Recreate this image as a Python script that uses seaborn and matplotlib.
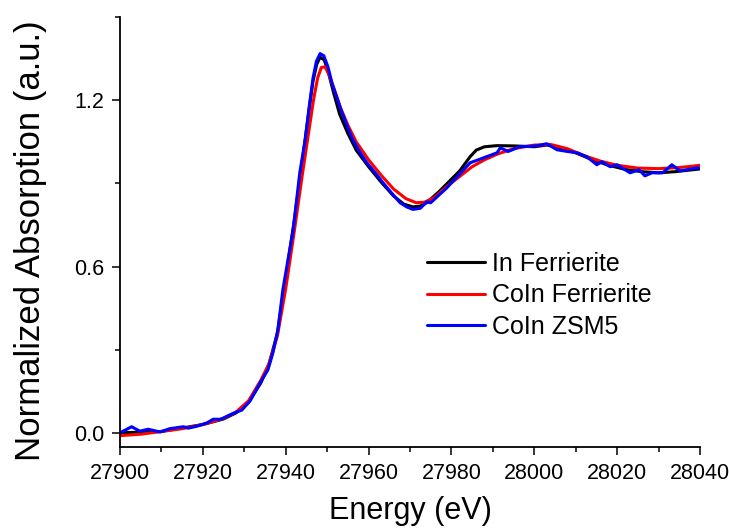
import pandas as pd
import seaborn as sns
import matplotlib.pyplot as plt
from matplotlib.ticker import MultipleLocator

# In Ferrierite (black)
energy_in_fer = [27900, 27910, 27920, 27925, 27928, 27931, 27934, 27936, 27938, 27940,
                 27942, 27944, 27945.5, 27946.6, 27947.5, 27948.3, 27949.3, 27950.3, 27951.5, 27953,
                 27955, 27957, 27960, 27963, 27966, 27968.5, 27970.7, 27972.5, 27974, 27977,
                 27980, 27982, 27984.5, 27986, 27988, 27991, 27995, 28000, 28003, 28006,
                 28010, 28014, 28018, 28022, 28026, 28030, 28034, 28040]
abs_in_fer = [0.0, 0.005, 0.03, 0.05, 0.072, 0.11, 0.18, 0.25, 0.36, 0.56,
              0.76, 0.98, 1.15, 1.27, 1.33, 1.355, 1.345, 1.30, 1.23, 1.15,
              1.08, 1.02, 0.96, 0.905, 0.855, 0.825, 0.815, 0.818, 0.83, 0.87,
              0.915, 0.945, 0.996, 1.02, 1.032, 1.036, 1.035, 1.032, 1.038, 1.03,
              1.01, 0.985, 0.965, 0.95, 0.942, 0.938, 0.942, 0.952]

# CoIn Ferrierite (red)
energy_coin_fer = [27900, 27905, 27910, 27915, 27920, 27925, 27928, 27931, 27934, 27936,
                   27938, 27940, 27942, 27944, 27945.5, 27946.7, 27947.7, 27948.6, 27949.5, 27950.5,
                   27951.7, 27953.3, 27955, 27957, 27960, 27963, 27966, 27969, 27971.5, 27973.5,
                   27976, 27979, 27982, 27985, 27988, 27991, 27995, 28000, 28004, 28008,
                   28012, 28016, 28020, 28025, 28030, 28035, 28040]
abs_coin_fer = [-0.01, -0.005, 0.005, 0.015, 0.03, 0.052, 0.075, 0.115, 0.19, 0.25,
                0.35, 0.52, 0.72, 0.93, 1.08, 1.2, 1.28, 1.318, 1.32, 1.29,
                1.24, 1.17, 1.11, 1.05, 0.985, 0.93, 0.88, 0.845, 0.83, 0.832,
                0.85, 0.89, 0.925, 0.96, 0.985, 1.005, 1.025, 1.038, 1.04, 1.025,
                1.0, 0.98, 0.965, 0.955, 0.953, 0.957, 0.965]

# CoIn ZSM5 (blue)
energy_coin_zsm5 = [27900, 27902.8, 27904.8, 27906.8, 27909.7, 27912, 27915.3, 27916.5, 27918.6, 27921,
                    27922.5, 27924.3, 27927.3, 27929.4, 27931.4, 27933.8, 27935.7, 27936.9, 27938.1, 27939.3,
                    27940.5, 27941.8, 27943.4, 27944.7, 27945.7, 27946.6, 27947.4, 27948.3, 27949.2, 27950.2,
                    27951.2, 27953.1, 27955, 27956.2, 27958, 27959.6, 27961.5, 27963.5, 27965.5, 27967.6,
                    27969.2, 27970.7, 27972.5, 27974, 27975, 27978.9, 27984.5, 27991, 27991.8, 27993.7,
                    27996.5, 28000.5, 28003, 28005.5, 28008, 28010.4, 28012.7, 28015.1, 28016.3, 28018.3,
                    28020, 28023.1, 28025.3, 28026.7, 28028.4, 28031, 28033.2, 28035.2, 28039.3, 28040]
abs_coin_zsm5 = [0.0, 0.022, 0.006, 0.013, 0.003, 0.015, 0.022, 0.017, 0.024, 0.036,
                 0.049, 0.049, 0.070, 0.082, 0.115, 0.18, 0.227, 0.288, 0.371, 0.515,
                 0.62, 0.732, 0.939, 1.057, 1.18, 1.28, 1.34, 1.368, 1.36, 1.32,
                 1.26, 1.175, 1.10, 1.057, 1.01, 0.974, 0.94, 0.902, 0.866, 0.830,
                 0.815, 0.806, 0.81, 0.833, 0.83, 0.884, 0.974, 1.01, 1.028, 1.015,
                 1.032, 1.035, 1.043, 1.021, 1.015, 1.01, 0.996, 0.967, 0.978, 0.96,
                 0.967, 0.938, 0.949, 0.927, 0.938, 0.938, 0.967, 0.945, 0.956, 0.955]

series = [
    ('In Ferrierite', energy_in_fer, abs_in_fer, 'black'),
    ('CoIn Ferrierite', energy_coin_fer, abs_coin_fer, 'red'),
    ('CoIn ZSM5', energy_coin_zsm5, abs_coin_zsm5, 'blue'),
]

sns.set_theme(style='ticks')
plt.rcParams['font.family'] = ['Liberation Sans', 'DejaVu Sans']
plt.rcParams['text.color'] = 'black'
plt.rcParams['axes.labelcolor'] = 'black'

fig = plt.figure(figsize=(7.29, 5.32), dpi=100)
ax = fig.add_axes([120 / 729, 1 - 446.7 / 532, 580 / 729, 429.7 / 532])

for name, e, a, col in series:
    df = pd.DataFrame({'Energy': e, 'Abs': a})
    sns.lineplot(data=df, x='Energy', y='Abs', color=col, linewidth=2.2,
                 label=name, sort=False, estimator=None, ax=ax)

ax.set_xlim(27900, 28040)
ax.set_ylim(-0.05, 1.5)
ax.xaxis.set_major_locator(MultipleLocator(20))
ax.xaxis.set_minor_locator(MultipleLocator(10))
ax.yaxis.set_major_locator(MultipleLocator(0.6))
ax.yaxis.set_minor_locator(MultipleLocator(0.3))
ax.yaxis.set_major_formatter(plt.FormatStrFormatter('%.1f'))

ax.tick_params(which='major', direction='out', length=6, width=1.1,
               labelsize=15.5, color='black', labelcolor='black')
ax.tick_params(axis='x', which='major', pad=6)
ax.tick_params(axis='y', which='major', pad=5)
ax.tick_params(which='minor', direction='out', length=3.6, width=1.1, color='black')

sns.despine(ax=ax)
for s in ['left', 'bottom']:
    ax.spines[s].set_linewidth(1.3)
    ax.spines[s].set_color('black')

ax.set_xlabel('Energy (eV)', fontsize=22)
ax.set_ylabel('Normalized Absorption (a.u.)', fontsize=25)
ax.xaxis.set_label_coords(0.5, -0.115)
ax.yaxis.set_label_coords(-0.126, 0.48)

ax.legend(loc='upper left', bbox_to_anchor=(427 / 729, 1 - 252 / 532),
          bbox_transform=fig.transFigure, frameon=False, fontsize=18,
          handlelength=2.3, handletextpad=0.3, labelspacing=0.3,
          borderpad=0, borderaxespad=0)

plt.savefig('out.png', dpi=100)
